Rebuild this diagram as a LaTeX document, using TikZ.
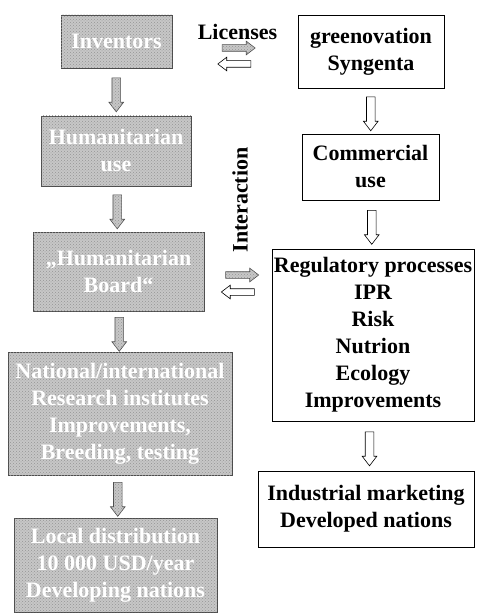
\documentclass[tikz,border=0pt]{standalone}
\usepackage{fontspec}
\setmainfont{Liberation Serif}
\usetikzlibrary{positioning, shapes.arrows, patterns}

\begin{document}
\begin{tikzpicture}[
    x=1pt, y=-1pt,
    box/.style={draw, line width=0.8pt, align=center, inner sep=2pt, font=\bfseries\fontsize{22}{27}\selectfont},
    greybox/.style={box, draw=black!70, fill=black!22, text=white, postaction={pattern=crosshatch dots, pattern color=black!42}},
    plainbox/.style={box, fill=white},
    blk/.style={single arrow, draw, line width=0.6pt, inner sep=4pt, minimum height=34, minimum width=14, single arrow head extend=3, single arrow tip angle=75},
    down/.style={shape border rotate=270},
    harr/.style={inner sep=3pt, minimum height=33, minimum width=13, single arrow head extend=3.5},
    garr/.style={blk, draw=black!70, fill=black!22, postaction={pattern=crosshatch dots, pattern color=black!42}},
    warr/.style={blk, fill=white},
    lbl/.style={font=\bfseries\fontsize{22}{27}\selectfont},
]
\useasboundingbox (0,0) rectangle (476,615);

% Left column
\node[greybox, minimum width=111, minimum height=53] (inv) at (116.5,41.5) {Inventors};
\node[greybox, minimum width=150, minimum height=70] (hum) at (116,151) {Humanitarian\\use};
\node[greybox, minimum width=171, minimum height=79] (board) at (118.5,271.5) {„Humanitarian\\Board“};
\node[greybox, minimum width=224, minimum height=123] (inst) at (120,413.5) {National/international\\Research institutes\\Improvements,\\Breeding, testing};
\node[greybox, minimum width=203, minimum height=94] (dist) at (115.5,565) {Local distribution\\10 000 USD/year\\Developing nations};

% Right column
\node[plainbox, minimum width=146, minimum height=73] (gsyn) at (371,51.5) {greenovation\\Syngenta};
\node[plainbox, minimum width=137, minimum height=66] (comm) at (370.5,167) {Commercial\\use};
\node[plainbox, minimum width=202, minimum height=172] (reg) at (373,335) {Regulatory processes\\IPR\\Risk\\Nutrion\\Ecology\\Improvements};
\node[plainbox, minimum width=216, minimum height=76] (ind) at (366,509) {Industrial marketing\\Developed nations};

% Down arrows
\path (inv.south) -- node[garr, down] (a1) {} (hum.north);
\path (hum.south) -- node[garr, down] (a2) {} (board.north);
\path (board.south) -- node[garr, down] (a3) {} (inst.north);
\path (inst.south) -- node[garr, down] (a4) {} (dist.north);
\path (gsyn.south) -- node[warr, down] (b1) {} (comm.north);
\path (comm.south) -- node[warr, down] (b2) {} (reg.north);
\path (reg.south) -- node[warr, down] (b3) {} (ind.north);

% Licenses
\node[lbl] (lic) at (237.5,32) {Licenses};
\node[garr, harr] (licr) at (236.5,48) {};
\node[warr, harr, shape border rotate=180] (licl) at (236.5,64) {};

% Interaction
\node[lbl, rotate=90] (inter) at (240,200) {Interaction};
\node[garr, harr] (intr) at (240,275) {};
\node[warr, harr, shape border rotate=180] (intl) at (240,292) {};

\end{tikzpicture}
\end{document}
